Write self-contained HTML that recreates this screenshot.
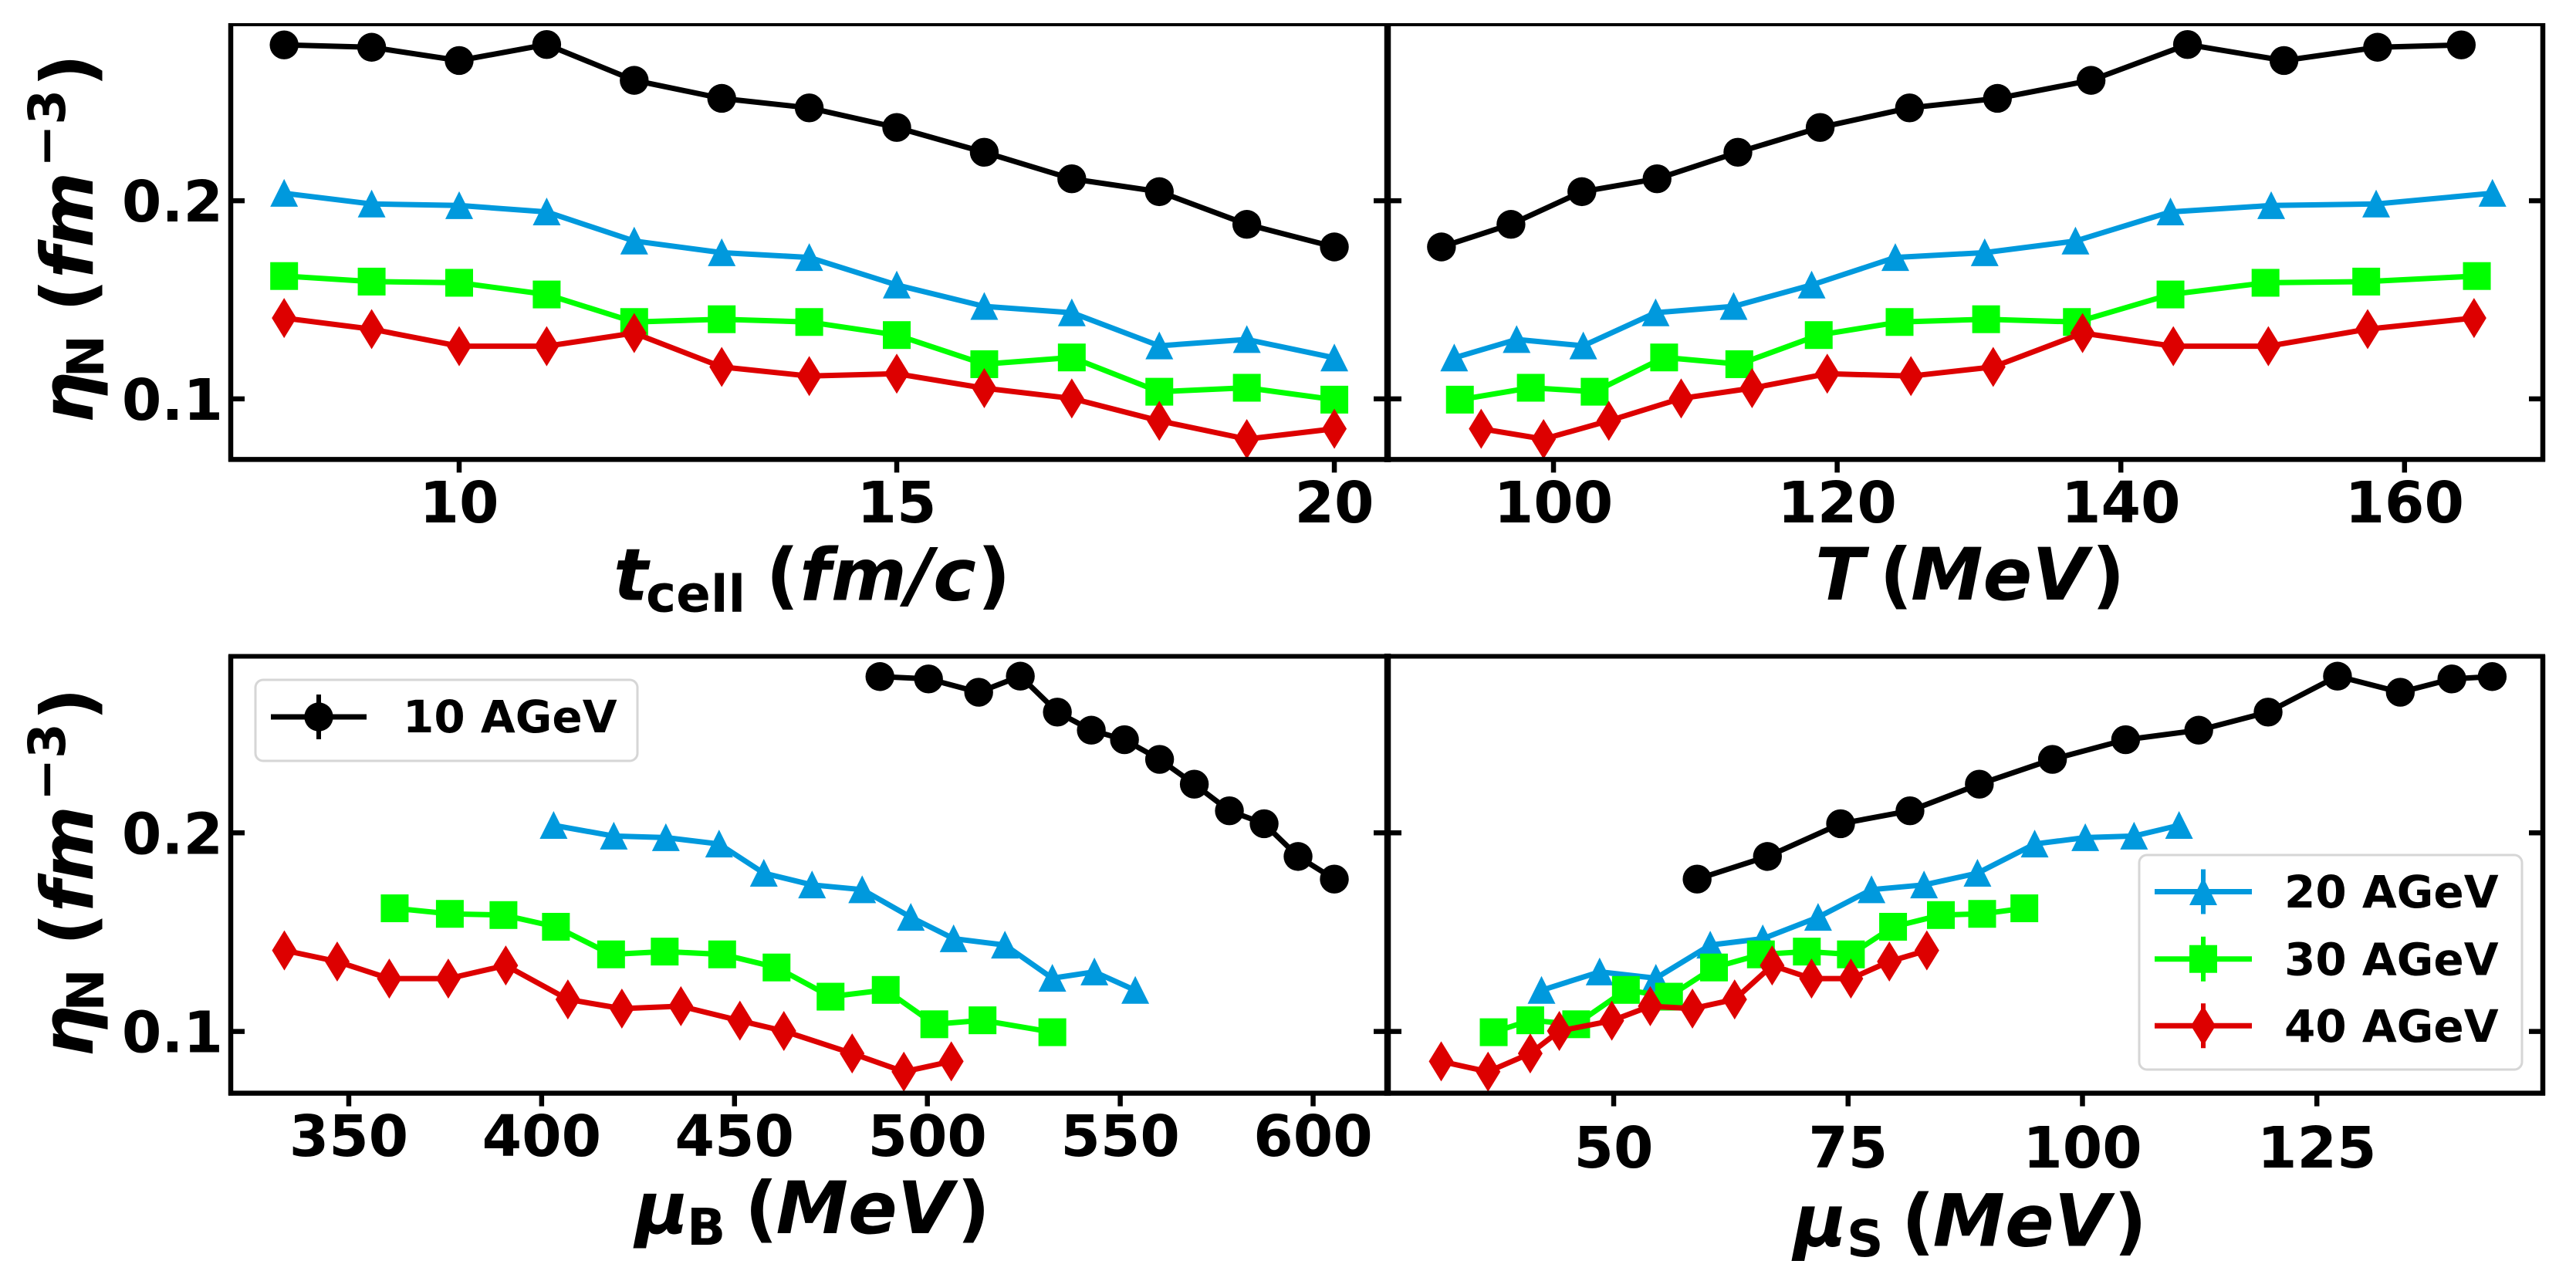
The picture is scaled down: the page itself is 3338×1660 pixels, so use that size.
<!DOCTYPE html>
<html lang="en">
<head>
<meta charset="utf-8">
<title>Nucleon density versus fit parameters</title>
<style>
html,body{margin:0;padding:0;background:#fff;width:3338px;height:1660px;overflow:hidden}
svg{display:block}
text{font-family:"DejaVu Sans","Liberation Sans",sans-serif;font-weight:bold;fill:#000}
.m{font-size:94px;font-style:italic}
.s{font-size:66px}
.up{font-size:94px}
.tick{font-size:74px}
.leg{font-size:58px}
</style>
</head>
<body>
<svg id="chart" xmlns="http://www.w3.org/2000/svg" width="3338" height="1660" viewBox="0 0 3338 1660">
  <rect width="3338" height="1660" fill="#fff"/>
  <defs>
    <clipPath id="c0"><rect x="298" y="31" width="1500" height="565"/></clipPath>
    <clipPath id="c1"><rect x="1798" y="31" width="1497" height="565"/></clipPath>
    <clipPath id="c2"><rect x="298" y="850" width="1500" height="567"/></clipPath>
    <clipPath id="c3"><rect x="1798" y="850" width="1497" height="567"/></clipPath>
  </defs>
  <g id="plots"></g>

  <g>
    <text class="m" x="795" y="777.5">t</text><text class="s" x="837" y="792.7">cell</text><text class="up" x="992.5" y="777.5">(</text><text class="m" x="1036" y="777.5">fm/c</text><text class="up" x="1266.5" y="777.5">)</text>
  </g>
  <g>
    <text class="m" x="2352" y="777">T</text><text class="up" x="2435.5" y="777">(</text><text class="m" x="2476" y="777">MeV</text><text class="up" x="2710.5" y="777">)</text>
  </g>
  <g>
    <text class="m" x="823" y="1598">μ</text><text class="s" x="890" y="1613">B</text><text class="up" x="965" y="1598">(</text><text class="m" x="1005.5" y="1598">MeV</text><text class="up" x="1240" y="1598">)</text>
  </g>
  <g>
    <text class="m" x="2324" y="1614.3">μ</text><text class="s" x="2393" y="1628">S</text><text class="up" x="2464" y="1614.3">(</text><text class="m" x="2504.5" y="1614.3">MeV</text><text class="up" x="2739" y="1614.3">)</text>
  </g>
  <g transform="translate(120,546.7) rotate(-90)">
    <text class="m" x="-2" y="0">η</text><text class="s" x="57.5" y="14">N</text><text class="up" x="142.5" y="0">(</text><text class="m" x="186" y="0">f</text><text class="m" x="226" y="0">m</text><text class="s" x="330" y="-38">−</text><text class="s" x="385" y="-36">3</text><text class="up" x="434" y="0">)</text>
  </g>
  <g transform="translate(120,1368) rotate(-90)">
    <text class="m" x="-2" y="0">η</text><text class="s" x="57.5" y="14">N</text><text class="up" x="142.5" y="0">(</text><text class="m" x="186" y="0">f</text><text class="m" x="226" y="0">m</text><text class="s" x="330" y="-38">−</text><text class="s" x="385" y="-36">3</text><text class="up" x="434" y="0">)</text>
  </g>
</svg>
<script>
// ---- data: one density array per beam energy (same in every panel) ----
const seriesLabels = ['10 AGeV', '20 AGeV', '30 AGeV', '40 AGeV'];
const seriesColors = ['#000000', '#0099dd', '#00ff00', '#dd0000'];
const etaAGeV10 = [0.2787, 0.2775, 0.2708, 0.2789, 0.2608, 0.2517, 0.2469, 0.2370, 0.2245, 0.2111, 0.2046, 0.1881, 0.1767];
const etaAGeV20 = [0.2038, 0.1984, 0.1976, 0.1944, 0.1797, 0.1738, 0.1714, 0.1575, 0.1467, 0.1435, 0.1268, 0.1300, 0.1207];
const etaAGeV30 = [0.1620, 0.1592, 0.1586, 0.1527, 0.1388, 0.1402, 0.1388, 0.1322, 0.1175, 0.1209, 0.1036, 0.1056, 0.0996];
const etaAGeV40 = [0.1408, 0.1352, 0.1266, 0.1266, 0.1332, 0.1161, 0.1115, 0.1127, 0.1054, 0.1002, 0.0889, 0.0797, 0.0849];

const tcellValues = [8, 9, 10, 11, 12, 13, 14, 15, 16, 17, 18, 19, 20];

const tempAGeV10 = [164.0, 158.1, 151.5, 144.7, 137.9, 131.3, 125.1, 118.8, 113.0, 107.3, 102.0, 97.0, 92.1];
const tempAGeV20 = [166.2, 158.0, 150.6, 143.5, 136.8, 130.4, 124.1, 118.2, 112.7, 107.2, 102.1, 97.4, 93.0];
const tempAGeV30 = [165.1, 157.3, 150.2, 143.5, 136.9, 130.5, 124.4, 118.7, 113.1, 107.8, 102.9, 98.4, 93.4];
const tempAGeV40 = [164.9, 157.4, 150.4, 143.7, 137.3, 131.0, 125.2, 119.3, 114.0, 109.0, 103.9, 99.3, 94.9];

const muBAGeV10 = [487.7, 500.3, 513.3, 524.1, 533.7, 542.5, 551.1, 560.2, 569.2, 578.3, 587.3, 596.1, 605.5];
const muBAGeV20 = [403.1, 418.7, 432.2, 446.0, 457.6, 470.1, 483.1, 495.7, 506.8, 520.1, 532.4, 543.3, 553.9];
const muBAGeV30 = [361.9, 376.2, 390.1, 403.7, 418.0, 431.9, 446.8, 460.9, 474.9, 489.2, 501.8, 514.3, 532.4];
const muBAGeV40 = [333.3, 347.0, 360.5, 375.8, 390.7, 406.8, 420.8, 436.1, 451.4, 462.8, 480.5, 493.9, 506.2];

const muSAGeV10 = [143.7, 139.4, 133.9, 127.2, 119.8, 112.4, 104.6, 96.8, 89.0, 81.6, 74.2, 66.4, 58.9];
const muSAGeV20 = [110.3, 105.5, 100.3, 94.9, 88.8, 83.1, 77.5, 71.8, 65.9, 60.3, 54.5, 48.5, 42.3];
const muSAGeV30 = [93.8, 89.3, 84.9, 79.8, 75.3, 70.6, 65.7, 60.7, 55.9, 51.3, 46.0, 41.1, 37.2];
const muSAGeV40 = [83.4, 79.4, 75.3, 71.1, 66.9, 62.9, 58.4, 53.9, 49.8, 44.2, 41.1, 36.6, 31.6];

const yTickValues = [0.1, 0.2];
const yTickLabels = ['0.1', '0.2'];
const tcellTicks = [10, 15, 20];
const tempTicks = [100, 120, 140, 160];
const muBTicks = [350, 400, 450, 500, 550, 600];
const muSTicks = [50, 75, 100, 125];

// ---- layout ----
const NS = 'http://www.w3.org/2000/svg';
const root = document.getElementById('plots');

function mk(tag, attrs, parent, txt) {
  const n = document.createElementNS(NS, tag);
  for (const k in attrs) n.setAttribute(k, attrs[k]);
  if (txt !== undefined) n.textContent = txt;
  (parent || root).appendChild(n);
  return n;
}
function linear(d0, d1, r0, r1) {
  return v => r0 + (v - d0) * (r1 - r0) / (d1 - d0);
}
function drawMarker(kind, cx, cy, color, parent) {
  if (kind === 0) return mk('circle', {cx: cx, cy: cy, r: 18.7, fill: color}, parent);
  if (kind === 1) return mk('polygon', {points: [cx, cy - 18.5, cx - 18, cy + 17.5, cx + 18, cy + 17.5].join(' '), fill: color}, parent);
  if (kind === 2) return mk('rect', {x: cx - 18, y: cy - 18, width: 36, height: 36, fill: color}, parent);
  return mk('polygon', {points: [cx, cy - 26, cx + 16, cy, cx, cy + 26, cx - 16, cy].join(' '), fill: color}, parent);
}

const panels = [
  {id: 'tcell', clip: 'c0', L: 299, R: 1798, T: 32, B: 595.4, topW: 4, xd: [7.39, 20.608], yd: [0.0694, 0.2889],
   ticks: tcellTicks, labels: tcellTicks, showY: true, base: 677,
   xs: [tcellValues, tcellValues, tcellValues, tcellValues]},
  {id: 'temperature', clip: 'c1', L: 1798, R: 3295, T: 32, B: 595.4, topW: 4, xd: [88.30, 169.75], yd: [0.0694, 0.2889],
   ticks: tempTicks, labels: tempTicks, showY: false, base: 677,
   xs: [tempAGeV10, tempAGeV20, tempAGeV30, tempAGeV40]},
  {id: 'mu-b', clip: 'c2', L: 299, R: 1798, T: 850.5, B: 1416.6, topW: 6, xd: [319.4, 619.3], yd: [0.0689, 0.2889],
   ticks: muBTicks, labels: muBTicks, showY: true, base: 1498,
   xs: [muBAGeV10, muBAGeV20, muBAGeV30, muBAGeV40]},
  {id: 'mu-s', clip: 'c3', L: 1798, R: 3295, T: 850.5, B: 1416.6, topW: 6, xd: [25.88, 149.1], yd: [0.0689, 0.2889],
   ticks: muSTicks, labels: muSTicks, showY: false, base: 1513,
   xs: [muSAGeV10, muSAGeV20, muSAGeV30, muSAGeV40]}
];
const etas = [etaAGeV10, etaAGeV20, etaAGeV30, etaAGeV40];
const seriesKeys = ['10-agev', '20-agev', '30-agev', '40-agev'];

panels.forEach(function (p) {
  const x = linear(p.xd[0], p.xd[1], p.L, p.R);
  const y = linear(p.yd[0], p.yd[1], p.B, p.T);
  const g = mk('g', {});
  
  

  // series
  const sg = mk('g', {'clip-path': 'url(#' + p.clip + ')'}, g);
  etas.forEach(function (eta, si) {
    const xv = p.xs[si];
    const pts = eta.map((v, i) => x(xv[i]).toFixed(1) + ',' + y(v).toFixed(1)).join(' ');
    const line = mk('polyline', {points: pts, fill: 'none', stroke: seriesColors[si], 'stroke-width': 7, 'stroke-linejoin': 'round'}, sg);
    
    
    eta.forEach(function (v, i) {
      const mark = drawMarker(si, x(xv[i]), y(v), seriesColors[si], sg);
      
      
    });
  });

  // y ticks on both sides, pointing inward
  yTickValues.forEach(function (v, i) {
    const py = y(v);
    const t1 = mk('line', {x1: p.L, x2: p.L + 18, y1: py, y2: py, stroke: '#000', 'stroke-width': 6.5}, g);
    
    
    const t2 = mk('line', {x1: p.R - 18, x2: p.R, y1: py, y2: py, stroke: '#000', 'stroke-width': 6.5}, g);
    
    
    if (p.showY) {
      const lab = mk('text', {class: 'tick', x: 289, y: py + 27, 'text-anchor': 'end'}, g, yTickLabels[i]);
      
      
    }
  });

  // x ticks
  p.ticks.forEach(function (v, i) {
    const px = x(v);
    const t = mk('line', {x1: px, x2: px, y1: p.B, y2: p.B + 17, stroke: '#000', 'stroke-width': 6.5}, g);
    
    
    const lab = mk('text', {class: 'tick', x: px, y: p.base, 'text-anchor': 'middle'}, g, String(p.labels[i]));
    
    
  });

  // frame: four spines
  const spineTop = mk('line', {x1: p.L - 3, x2: p.R + 3, y1: p.T, y2: p.T, stroke: '#000', 'stroke-width': p.topW}, g);
  
  
  const spineBottom = mk('line', {x1: p.L - 3, x2: p.R + 3, y1: p.B, y2: p.B, stroke: '#000', 'stroke-width': 6.5}, g);
  
  
  const spineLeft = mk('line', {x1: p.L, x2: p.L, y1: p.T - 2, y2: p.B + 3, stroke: '#000', 'stroke-width': 6.5}, g);
  
  
  const spineRight = mk('line', {x1: p.R, x2: p.R, y1: p.T - 2, y2: p.B + 3, stroke: '#000', 'stroke-width': 6.5}, g);
  
  
});

// shared centre spine is thicker
const midTop = mk('line', {x1: 1798, x2: 1798, y1: 30, y2: 599, stroke: '#000', 'stroke-width': 8.5});


const midBot = mk('line', {x1: 1798, x2: 1798, y1: 847, y2: 1420, stroke: '#000', 'stroke-width': 8.5});



// legends
function legendBox(x, y, w, h, name) {
  const g = mk('g', {});
  
  
  mk('rect', {x: x, y: y, width: w, height: h, rx: 10, ry: 10, fill: '#fff', 'fill-opacity': 0.85, stroke: '#d6d6d6', 'stroke-width': 3}, g);
  return g;
}
function legendEntry(g, si, x0, x1, cy, textX, baseY) {
  const e = mk('g', {}, g);
  
  
  const c = seriesColors[si], mid = (x0 + x1) / 2;
  mk('line', {x1: x0, x2: x1, y1: cy, y2: cy, stroke: c, 'stroke-width': 7}, e);
  mk('line', {x1: mid, x2: mid, y1: cy - 29, y2: cy + 29, stroke: c, 'stroke-width': 6}, e);
  drawMarker(si, mid, cy, c, e);
  mk('text', {class: 'leg', x: textX, y: baseY}, e, seriesLabels[si]);
}
const legendA = legendBox(331, 881, 495, 105, 'legend-10-agev');
legendEntry(legendA, 0, 351, 475, 929, 522, 949);
const legendB = legendBox(2772, 1108, 496, 278, 'legend-20-30-40-agev');
legendEntry(legendB, 1, 2792, 2918, 1155.5, 2960, 1176);
legendEntry(legendB, 2, 2792, 2918, 1242.7, 2960, 1263.5);
legendEntry(legendB, 3, 2792, 2918, 1329.3, 2960, 1350);
</script>
</body>
</html>
